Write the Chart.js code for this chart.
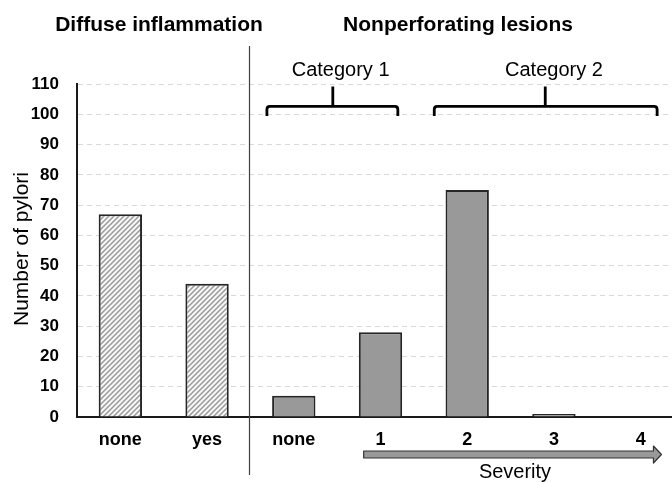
<!DOCTYPE html>
<html>
<head>
<meta charset="utf-8">
<script src="https://cdn.jsdelivr.net/npm/chart.js@4.4.1/dist/chart.umd.min.js"></script>
<style>
  html, body { margin:0; padding:0; overflow:hidden; background:#fff; }
  #wrap { width:684px; height:482px; position:relative; }
</style>
</head>
<body>
<div id="wrap"><canvas id="c"></canvas></div>
<script>
// ---- data ----
const categories = ['none', 'yes', 'none', '1', '2', '3', '4'];
const pyloriCounts = [67, 44, 7, 28, 75, 1, 0];
const groupTitles = ['Diffuse inflammation', 'Nonperforating lesions'];
const subgroupLabels = ['Category 1', 'Category 2'];
const yTicks = [0, 10, 20, 30, 40, 50, 60, 70, 80, 90, 100, 110];
const yAxisTitle = 'Number of pylori';
const arrowLabel = 'Severity';

// hatch pattern
function makeHatch() {
  const s = 5;
  const p = document.createElement('canvas');
  p.width = s; p.height = s;
  const g = p.getContext('2d');
  g.fillStyle = '#f7f7f7';
  g.fillRect(0, 0, s, s);
  g.strokeStyle = '#9a9a9a';
  g.lineWidth = 1.5;
  g.beginPath();
  g.moveTo(-1, s + 1); g.lineTo(s + 1, -1);
  g.moveTo(-1, 1); g.lineTo(1, -1);
  g.moveTo(s - 1, s + 1); g.lineTo(s + 1, s - 1);
  g.stroke();
  return g.createPattern(p, 'repeat');
}
const hatch = makeHatch();
const fills = categories.map((c, i) => i < 2 ? hatch : '#999999');

const FONT = 'Arial, "Liberation Sans", sans-serif';

const decor = {
  id: 'decor',
  afterDraw(chart) {
    const ctx = chart.ctx;
    const x = chart.scales.x, y = chart.scales.y;
    ctx.save();
    // group titles
    ctx.fillStyle = '#000';
    ctx.font = 'bold 21px ' + FONT;
    ctx.textAlign = 'center';
    ctx.textBaseline = 'middle';
    ctx.fillText(groupTitles[0], 159, 25);
    ctx.fillText(groupTitles[1], 458, 25);

    // separator line
    const sx = Math.round(x.getPixelForValue(1.5)) - 0.5;
    ctx.strokeStyle = '#404040';
    ctx.lineWidth = 1.2;
    ctx.beginPath();
    ctx.moveTo(sx, 46); ctx.lineTo(sx, 475);
    ctx.stroke();

    // braces
    ctx.strokeStyle = '#000';
    ctx.lineWidth = 2.8;
    ctx.lineJoin = 'round';
    function brace(a, b, m) {
      const xa = x.getPixelForValue(a), xb = x.getPixelForValue(b), xm = x.getPixelForValue(m);
      const yh = y.getPixelForValue(102.6), ye = y.getPixelForValue(99.4), yt = y.getPixelForValue(109.2);
      const r = 3;
      ctx.beginPath();
      ctx.moveTo(xa, ye);
      ctx.lineTo(xa, yh + r);
      ctx.quadraticCurveTo(xa, yh, xa + r, yh);
      ctx.lineTo(xb - r, yh);
      ctx.quadraticCurveTo(xb, yh, xb, yh + r);
      ctx.lineTo(xb, ye);
      ctx.moveTo(xm, yh);
      ctx.lineTo(xm, yt);
      ctx.stroke();
    }
    brace(1.69, 3.2, 2.45);
    brace(3.62, 6.19, 4.9);

    ctx.font = '20px ' + FONT;
    ctx.fillText(subgroupLabels[0], x.getPixelForValue(2.54), 70);
    ctx.fillText(subgroupLabels[1], x.getPixelForValue(5.0), 70);

    // y-axis title
    ctx.save();
    ctx.translate(22, 249);
    ctx.rotate(-Math.PI / 2);
    ctx.font = '21px ' + FONT;
    ctx.fillText(yAxisTitle, 0, 0);
    ctx.restore();

    // severity arrow
    const ax0 = x.getPixelForValue(2.806), ax1 = x.getPixelForValue(6.24);
    const ah = ax1 - 8;
    ctx.beginPath();
    ctx.moveTo(ax0, 451);
    ctx.lineTo(ah, 451);
    ctx.lineTo(ah, 446);
    ctx.lineTo(ax1, 454.5);
    ctx.lineTo(ah, 463);
    ctx.lineTo(ah, 458);
    ctx.lineTo(ax0, 458);
    ctx.closePath();
    ctx.fillStyle = '#999999';
    ctx.fill();
    ctx.strokeStyle = '#333';
    ctx.lineWidth = 1.2;
    ctx.stroke();

    ctx.fillStyle = '#000';
    ctx.font = '20px ' + FONT;
    ctx.fillText(arrowLabel, 515, 472);
    ctx.restore();
  }
};

new Chart(document.getElementById('c'), {
  type: 'bar',
  data: {
    labels: categories,
    datasets: [{
      data: pyloriCounts,
      backgroundColor: fills,
      borderColor: '#262626',
      borderWidth: 2,
      borderSkipped: 'bottom',
      barPercentage: 0.5,
      categoryPercentage: 1.0
    }]
  },
  options: {
    responsive: true,
    maintainAspectRatio: false,
    animation: false,
    devicePixelRatio: 1,
    layout: { padding: { top: 84, right: 0, left: 0, bottom: 0 } },
    plugins: { legend: { display: false }, tooltip: { enabled: false } },
    scales: {
      x: {
        grid: { display: false, drawTicks: false },
        border: { display: true, color: '#1a1a1a', width: 2 },
        ticks: { color: '#000', font: { family: FONT, size: 18, weight: 'bold' }, padding: 12, maxRotation: 0 },
        afterFit(s) { s.height = 65; }
      },
      y: {
        min: 0, max: 110,
        afterBuildTicks(s) { s.ticks = yTicks.map(v => ({ value: v })); },
        grid: {
          color: (c) => c.tick && c.tick.value === 0 ? 'rgba(0,0,0,0)' : '#d9d9d9',
          lineWidth: 1,
          drawTicks: false
        },
        border: { display: true, color: '#1a1a1a', width: 2, dash: [5, 4] },
        ticks: { color: '#000', font: { family: FONT, size: 17, weight: 'bold' }, padding: 18 },
        afterFit(s) { s.width = 77; }
      }
    }
  },
  plugins: [decor]
});
</script>
</body>
</html>
